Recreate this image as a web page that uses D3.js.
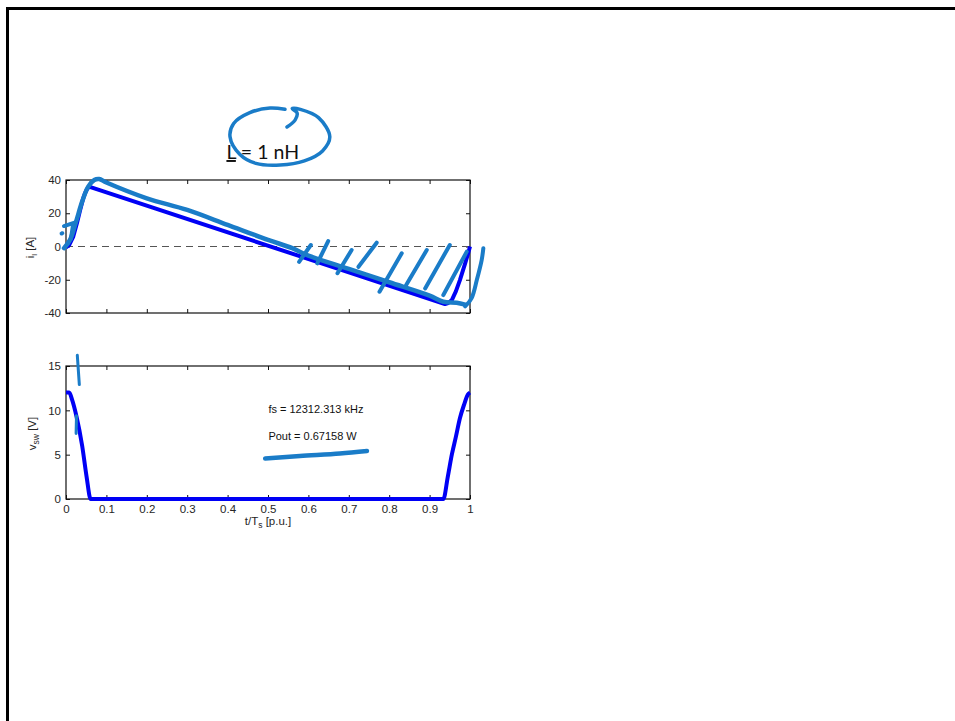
<!DOCTYPE html>
<html>
<head>
<meta charset="utf-8">
<script src="https://cdn.jsdelivr.net/npm/d3@7"></script>
<style>
  body { margin: 0; background: #fff; }
  text { font-family: "Liberation Sans", Arial, sans-serif; }
</style>
</head>
<body>
<div id="chart"></div>
<script>
// ---- data ----
// inductor current i_l [A] vs t/Ts
const tCurrent = [0, 0.008, 0.018, 0.027, 0.035, 0.042, 0.047, 0.052, 0.057, 0.938, 0.946, 0.955, 0.965, 0.975, 0.988, 0.995, 1.0];
const iCurrent = [-0.5, 1, 6, 14, 22, 28.5, 32, 34.5, 36, -34.6, -34, -32.2, -27, -20.2, -10.1, -4.5, 0];

// switch node voltage v_sw [V] vs t/Ts
const tVoltage = [0, 0.008, 0.015, 0.026, 0.04, 0.051, 0.061, 0.934, 0.945, 0.955, 0.965, 0.975, 0.985, 0.995, 1.0];
const vVoltage = [12, 12, 11.2, 9.3, 6.0, 2.5, 0, 0, 2.5, 5.0, 7.0, 9.1, 10.6, 11.8, 12];

const xTicks = [0, 0.1, 0.2, 0.3, 0.4, 0.5, 0.6, 0.7, 0.8, 0.9, 1];
const iTicks = [-40, -20, 0, 20, 40];
const vTicks = [0, 5, 10, 15];

const titleText = "L = 1 nH";
const noteLines = ["fs = 12312.313 kHz", "Pout = 0.67158 W"];

// hand-drawn ink on top of the figure (in data units of each axes)
const inkTraceT = [-0.005, 0.01, 0.025, 0.04, 0.055, 0.07, 0.082, 0.1, 0.2, 0.3, 0.4, 0.5, 0.56, 0.6, 0.7, 0.8, 0.9, 0.934, 0.967, 0.988];
const inkTraceI = [-1, 4, 15, 27, 36, 40, 40.6, 38.5, 29, 22, 13, 4, -1, -5.5, -13.5, -21.5, -29.5, -33.2, -33.8, -35];
const inkCurlT = [0.988, 1.004, 1.017, 1.029, 1.033];
const inkCurlI = [-36, -31, -20, -8, -1];
// hatch strokes [t0, i0, t1, i1]
const inkHatches = [
  [0.577, -9.2, 0.606, 0.9],
  [0.622, -10.1, 0.649, 3.3],
  [0.672, -16.1, 0.707, -2.1],
  [0.724, -12.2, 0.769, 2.3],
  [0.776, -27.2, 0.831, -4.1],
  [0.842, -23.2, 0.893, -2.1],
  [0.889, -25.2, 0.950, 0.9],
  [0.934, -29.2, 0.992, -3.1]
];
const inkScribbles = [
  [-0.005, 12.3, 0.025, 14.7],
  [0.012, 4.5, 0.017, 12.3],
  [-0.011, 7.8, -0.009, 8.0]
];
// loop around the title "L" (t, i units of the upper axes, above its range)
const inkLoopT = [0.542, 0.505, 0.455, 0.415, 0.406, 0.43, 0.47, 0.53, 0.59, 0.635, 0.653, 0.625, 0.58, 0.56, 0.572, 0.567, 0.547];
const inkLoopI = [82.5, 83.3, 80.5, 74, 66, 55.5, 50, 49, 51.5, 57.5, 66, 77.5, 82.5, 83, 80.3, 76, 71.9];
// marks on the lower axes [t0, v0, t1, v1]
const inkVMarks = [
  [0.028, 16.2, 0.033, 12.9],
  [0.026, 9.4, 0.025, 7.4]
];
const inkUnderT = [0.493, 0.579, 0.678, 0.745];
const inkUnderV = [4.57, 4.85, 5.13, 5.41];

// ---- layout ----
const W = 955, H = 721;
const plotL = 66, plotR = 470;
const top1 = 180, bot1 = 313;
const top2 = 366, bot2 = 499;
const lineBlue = "#0000f5", inkBlue = "#1a7cc8";

const svg = d3.select("#chart").append("svg")
  .attr("width", W).attr("height", H);

// page frame
svg.append("rect")
  .attr("x", 7.5).attr("y", 8.5)
  .attr("width", 1100).attr("height", 900)
  .attr("fill", "white").attr("stroke", "black").attr("stroke-width", 3);

const x = d3.scaleLinear().domain([0, 1]).range([plotL, plotR]);
const yI = d3.scaleLinear().domain([-40, 40]).range([bot1, top1]);
const yV = d3.scaleLinear().domain([0, 15]).range([bot2, top2]);

// matlab style labels: plain hyphen for negatives
const fmt = d => String(d);

function drawAxes(y, yT, top, bot, showX) {
  const g = svg.append("g");
  g.append("g").attr("transform", `translate(0,${bot})`)
    .call(d3.axisBottom(x).tickValues(xTicks).tickSizeInner(-4).tickSizeOuter(0).tickPadding(6)
      .tickFormat(showX ? fmt : ""));
  g.append("g").attr("transform", `translate(0,${top})`)
    .call(d3.axisTop(x).tickValues(xTicks).tickSizeInner(-4).tickSizeOuter(0).tickFormat(""));
  g.append("g").attr("transform", `translate(${plotL},0)`)
    .call(d3.axisLeft(y).tickValues(yT).tickSizeInner(-4).tickSizeOuter(0).tickPadding(5).tickFormat(fmt));
  g.append("g").attr("transform", `translate(${plotR},0)`)
    .call(d3.axisRight(y).tickValues(yT).tickSizeInner(-4).tickSizeOuter(0).tickFormat(""));
  g.selectAll(".domain").remove();
  g.selectAll(".tick line").attr("stroke", "#111");
  g.selectAll(".tick text").attr("font-size", 11.5).attr("fill", "#262626")
    .attr("font-family", "'Liberation Sans', Arial, sans-serif");
  g.append("rect")
    .attr("x", plotL).attr("y", top)
    .attr("width", plotR - plotL).attr("height", bot - top)
    .attr("fill", "none").attr("stroke", "#111").attr("stroke-width", 1.2);
  return g;
}

drawAxes(yI, iTicks, top1, bot1, false);
drawAxes(yV, vTicks, top2, bot2, true);

// dashed zero line
svg.append("line")
  .attr("x1", x(0)).attr("x2", x(1))
  .attr("y1", yI(0)).attr("y2", yI(0))
  .attr("stroke", "#555").attr("stroke-width", 1)
  .attr("stroke-dasharray", "7,5");

const currentData = tCurrent.map((t, k) => ({ t, v: iCurrent[k] }));
const voltageData = tVoltage.map((t, k) => ({ t, v: vVoltage[k] }));

const lineI = d3.line().x(d => x(d.t)).y(d => yI(d.v));
const lineV = d3.line().x(d => x(d.t)).y(d => yV(d.v)).curve(d3.curveMonotoneX);

svg.append("path").datum(currentData)
  .attr("d", lineI).attr("fill", "none")
  .attr("stroke", lineBlue).attr("stroke-width", 4).attr("stroke-linejoin", "round");

svg.append("path").datum(voltageData)
  .attr("d", lineV).attr("fill", "none")
  .attr("stroke", lineBlue).attr("stroke-width", 4).attr("stroke-linejoin", "round");

// axis labels
const yLab1 = svg.append("text")
  .attr("transform", `translate(34,${yI(0) + 1}) rotate(-90)`)
  .attr("text-anchor", "middle").attr("font-size", 11.5).attr("fill", "#262626");
yLab1.append("tspan").text("i");
yLab1.append("tspan").attr("font-size", 8).attr("dy", 3).text("l");
yLab1.append("tspan").attr("dy", -3).text(" [A]");

const yLab2 = svg.append("text")
  .attr("transform", `translate(36,${yV(7.5) + 1}) rotate(-90)`)
  .attr("text-anchor", "middle").attr("font-size", 11.5).attr("fill", "#262626");
yLab2.append("tspan").text("v");
yLab2.append("tspan").attr("font-size", 8.5).attr("dy", 3).text("sw");
yLab2.append("tspan").attr("dy", -3).text("  [V]");

const xLab = svg.append("text")
  .attr("x", x(0.5)).attr("y", 525)
  .attr("text-anchor", "middle").attr("font-size", 11.5).attr("fill", "#262626");
xLab.append("tspan").text("t/T");
xLab.append("tspan").attr("font-size", 8.5).attr("dy", 3).text("s");
xLab.append("tspan").attr("dy", -3).text(" [p.u.]");

// text notes in the lower axes
svg.selectAll(".note").data(noteLines).enter().append("text")
  .attr("class", "note")
  .attr("x", x(0.501))
  .attr("y", (d, k) => 413 + k * 27)
  .attr("font-size", 11).attr("fill", "#111")
  .text(d => d);

// title with underlined L
const title = svg.append("text")
  .attr("x", x(0.487)).attr("y", 159)
  .attr("text-anchor", "middle")
  .attr("font-size", 19.5).attr("fill", "#111")
  .style("font-family", "Lato, 'Open Sans', sans-serif");
title.append("tspan").style("text-decoration", "underline").text(titleText.slice(0, 1));
title.append("tspan").text(titleText.slice(1));

// ---- ink annotations ----
const ink = svg.append("g")
  .attr("fill", "none").attr("stroke", inkBlue)
  .attr("stroke-linecap", "round").attr("stroke-linejoin", "round");

const inkLineI = d3.line().x(d => x(d[0])).y(d => yI(d[1])).curve(d3.curveCatmullRom);
const inkLineV = d3.line().x(d => x(d[0])).y(d => yV(d[1])).curve(d3.curveCatmullRom);

ink.append("path")
  .attr("d", inkLineI(inkTraceT.map((t, k) => [t, inkTraceI[k]])))
  .attr("stroke-width", 4.5);
ink.append("path")
  .attr("d", inkLineI(inkCurlT.map((t, k) => [t, inkCurlI[k]])))
  .attr("stroke-width", 4);
ink.selectAll(".hatch").data(inkHatches.concat(inkScribbles)).enter().append("path")
  .attr("class", "hatch")
  .attr("d", d => inkLineI([[d[0], d[1]], [d[2], d[3]]]))
  .attr("stroke-width", 4);
ink.append("path")
  .attr("d", inkLineI(inkLoopT.map((t, k) => [t, inkLoopI[k]])))
  .attr("stroke-width", 3.5);
ink.selectAll(".vmark").data(inkVMarks).enter().append("path")
  .attr("class", "vmark")
  .attr("d", d => inkLineV([[d[0], d[1]], [d[2], d[3]]]))
  .attr("stroke-width", 3);
ink.append("path")
  .attr("d", inkLineV(inkUnderT.map((t, k) => [t, inkUnderV[k]])))
  .attr("stroke-width", 4.5);
</script>
</body>
</html>
